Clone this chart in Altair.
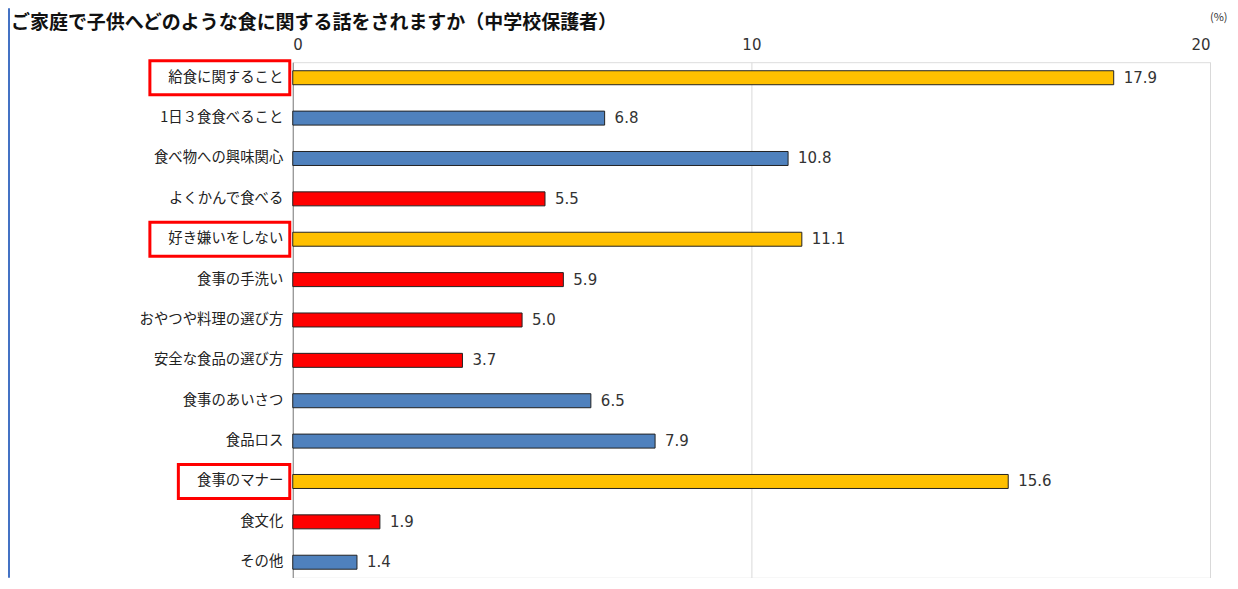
import altair as alt
import pandas as pd

categories = ["給食に関すること", "1日３食食べること", "食べ物への興味関心", "よくかんで食べる",
              "好き嫌いをしない", "食事の手洗い", "おやつや料理の選び方", "安全な食品の選び方",
              "食事のあいさつ", "食品ロス", "食事のマナー", "食文化", "その他"]
values = [17.9, 6.8, 10.8, 5.5, 11.1, 5.9, 5.0, 3.7, 6.5, 7.9, 15.6, 1.9, 1.4]
groups = ["top", "blue", "blue", "red", "top", "red", "red", "red", "blue", "blue", "top", "red", "blue"]
highlighted = ["給食に関すること", "好き嫌いをしない", "食事のマナー"]
title_text = "ご家庭で子供へどのような食に関する話をされますか（中学校保護者）"
unit_text = "(%)"
x_ticks = [0, 10, 20]

FONT = "Noto Sans CJK JP"
NUMFONT = "DejaVu Sans"
W, H = 918, 516
TOP = 54
PX_PER_UNIT = W / 20

df = pd.DataFrame({"cat": categories, "val": values, "grp": groups})
hl = pd.DataFrame({"cat": highlighted, "n": [len(c) for c in highlighted]})

yscale = alt.Scale(paddingInner=0.25, paddingOuter=0.01)
yenc = alt.Y("cat:N", sort=categories, scale=yscale,
             axis=alt.Axis(title=None, ticks=False, labelPadding=10, labelFontSize=14.4,
                           labelColor="#222", labelFont=FONT, domainColor="#888",
                           labelLimit=300))
xenc = alt.X("val:Q", scale=alt.Scale(domain=[0, 20]),
             axis=alt.Axis(orient="top", title=None, values=x_ticks, ticks=False,
                           labelPadding=10, labelFontSize=15, labelColor="#333",
                           labelFont=NUMFONT, grid=True, gridColor="#d9d9d9",
                           domain=False))

base = alt.Chart(df)
bars = base.mark_bar(size=14, stroke="#222", strokeWidth=1).encode(
    x=xenc, y=yenc,
    color=alt.Color("grp:N", scale=alt.Scale(domain=["top", "blue", "red"],
                                              range=["#FFC000", "#4F81BD", "#FF0000"]),
                    legend=None))
labels = base.mark_text(align="left", baseline="middle", dx=10, fontSize=15,
                        color="#333", font=NUMFONT).encode(
    x="val:Q", y=alt.Y("cat:N", sort=categories), text=alt.Text("val:Q", format=".1f"))

boxes = alt.Chart(hl).transform_calculate(
    x1=f"(-(datum.n * 14.25 + 26) - 3) / {PX_PER_UNIT}", x2=f"-3 / {PX_PER_UNIT}"
).mark_bar(size=34, filled=False, stroke="#FF0000", strokeWidth=3).encode(
    x="x1:Q", x2="x2:Q",
    y=alt.Y("cat:N", sort=categories))

title = alt.Chart(pd.DataFrame({"t": [title_text]})).mark_text(
    align="left", baseline="alphabetic", fontSize=19, fontWeight="bold",
    color="#111", font=FONT).encode(x=alt.value(-282), y=alt.value(-33), text="t:N")
unit = alt.Chart(pd.DataFrame({"t": [unit_text]})).mark_text(
    align="left", baseline="middle", fontSize=11, color="#333", font=FONT).encode(
    x=alt.value(918), y=alt.value(-44), text="t:N")
frame = alt.Chart(pd.DataFrame({"a": [0]})).mark_rule(color="#4472C4", strokeWidth=2).encode(
    x=alt.value(-284), y=alt.value(-TOP), y2=alt.value(H))

chart = alt.layer(bars, labels, boxes, title, unit, frame).properties(
    width=W, height=H,
    autosize=alt.AutoSizeParams(type="none"),
    padding={"left": 285, "top": TOP, "right": 20, "bottom": 0},
).configure_view(stroke=None).configure(font=FONT)

chart.save("out.html", embed_options={"renderer": "svg", "actions": False})
